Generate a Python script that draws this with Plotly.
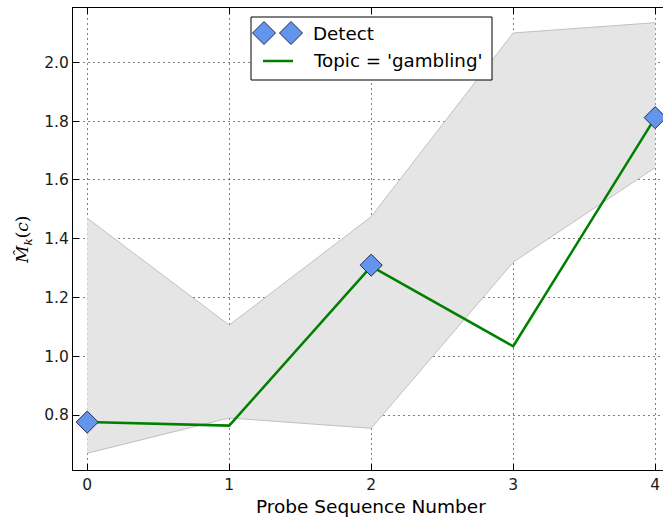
import plotly.graph_objects as go

# ---- data ----
probe_seq = [0, 1, 2, 3, 4]
topic_values = [0.776, 0.764, 1.306, 1.034, 1.812]
band_upper = [1.47, 1.106, 1.475, 2.10, 2.135]
band_lower = [0.67, 0.79, 0.755, 1.32, 1.642]
detect_x = [0, 2, 4]
detect_y = [0.776, 1.31, 1.812]
x_ticks = [0, 1, 2, 3, 4]
y_ticks = [0.8, 1.0, 1.2, 1.4, 1.6, 1.8, 2.0]

W, H = 663, 521
L, R, T, B = 73, 0, 8, 51
PW = W - L - R
PH = H - T - B


def px(x):
    return (x - L) / PW


def py(y):
    return (H - B - y) / PH


FONT = "DejaVu Sans"
GRID = "rgba(0,0,0,0.5)"

fig = go.Figure()
fig.add_trace(go.Scatter(x=probe_seq, y=band_lower, mode="lines",
                         line=dict(color="#c0c0c0", width=1), showlegend=False,
                         hoverinfo="skip"))
fig.add_trace(go.Scatter(x=probe_seq, y=band_upper, mode="lines", fill="tonexty",
                         fillcolor="#e5e5e5",
                         line=dict(color="#c0c0c0", width=1), showlegend=False,
                         hoverinfo="skip"))
fig.add_trace(go.Scatter(x=probe_seq, y=topic_values, mode="lines",
                         line=dict(color="#008000", width=2.5),
                         name="Topic = 'gambling'", showlegend=False))
fig.add_trace(go.Scatter(x=detect_x, y=detect_y, mode="markers",
                         marker=dict(symbol="diamond", size=17, color="#6495ED",
                                     line=dict(color="#2a2a4a", width=1)),
                         name="Detect", showlegend=False, cliponaxis=False))

shapes = []
annotations = []
# legend box
shapes.append(dict(type="rect", xref="paper", yref="paper",
                   x0=px(251), x1=px(492), y0=py(80), y1=py(17),
                   fillcolor="white", line=dict(color="black", width=1),
                   layer="above"))
for cx in (264, 291):
    shapes.append(dict(type="path", xref="paper", yref="paper",
                       xsizemode="pixel", ysizemode="pixel",
                       xanchor=px(cx), yanchor=py(33),
                       path="M -11.5 0 L 0 11.5 L 11.5 0 L 0 -11.5 Z",
                       fillcolor="#6495ED", line=dict(color="#2a2a4a", width=1),
                       layer="above"))
shapes.append(dict(type="line", xref="paper", yref="paper",
                   x0=px(263), x1=px(293), y0=py(61), y1=py(61),
                   line=dict(color="#008000", width=2.5), layer="above"))
annotations.append(dict(text="Detect", xref="paper", yref="paper",
                        x=px(311), y=py(33), xanchor="left", yanchor="middle",
                        showarrow=False, font=dict(family=FONT, size=18.3, color="black")))
annotations.append(dict(text="Topic = 'gambling'", xref="paper", yref="paper",
                        x=px(311), y=py(61), xanchor="left", yanchor="middle",
                        showarrow=False, font=dict(family=FONT, size=18.3, color="black")))
# axis titles
annotations.append(dict(text="Probe Sequence Number", xref="paper", yref="paper",
                        x=px(371), y=py(507), xanchor="center", yanchor="middle",
                        showarrow=False, font=dict(family=FONT, size=18.5, color="black")))
annotations.append(dict(text="<i>M̂</i><sub><i>k</i></sub>(<i>c</i>)", xref="paper", yref="paper",
                        x=px(23), y=py(240), xanchor="center", yanchor="middle",
                        textangle=-90, showarrow=False,
                        font=dict(family="DejaVu Serif", size=17, color="black")))

fig.update_layout(
    width=W, height=H,
    margin=dict(l=L, r=R, t=T, b=B, pad=0),
    paper_bgcolor="white", plot_bgcolor="white",
    shapes=shapes, annotations=annotations,
    showlegend=False,
    font=dict(family=FONT, size=15.5, color="#222222"),
)
fig.update_xaxes(range=[-0.1, -0.1 + PW / 142.0], tickvals=x_ticks,
                 ticktext=[str(v) for v in x_ticks],
                 showline=True, linecolor="black", linewidth=1.2, mirror="ticks",
                 ticks="inside", ticklen=6, tickcolor="black",
                 showgrid=True, gridcolor=GRID, griddash="2px,3px", gridwidth=1,
                 zeroline=False, tickfont=dict(family=FONT, size=15.5, color="#1a1a1a"))
fig.update_yaxes(range=[0.613, 2.185], tickvals=y_ticks,
                 ticktext=[f"{v:.1f}" for v in y_ticks],
                 showline=True, linecolor="black", linewidth=1.2, mirror=False,
                 ticks="inside", ticklen=6, tickcolor="black",
                 showgrid=True, gridcolor=GRID, griddash="2px,3px", gridwidth=1,
                 zeroline=False, tickfont=dict(family=FONT, size=15.5, color="#1a1a1a"))

fig.write_html("out.html", config={"displayModeBar": False},
               post_script="document.body.style.margin='0';document.body.style.overflow='hidden';")
